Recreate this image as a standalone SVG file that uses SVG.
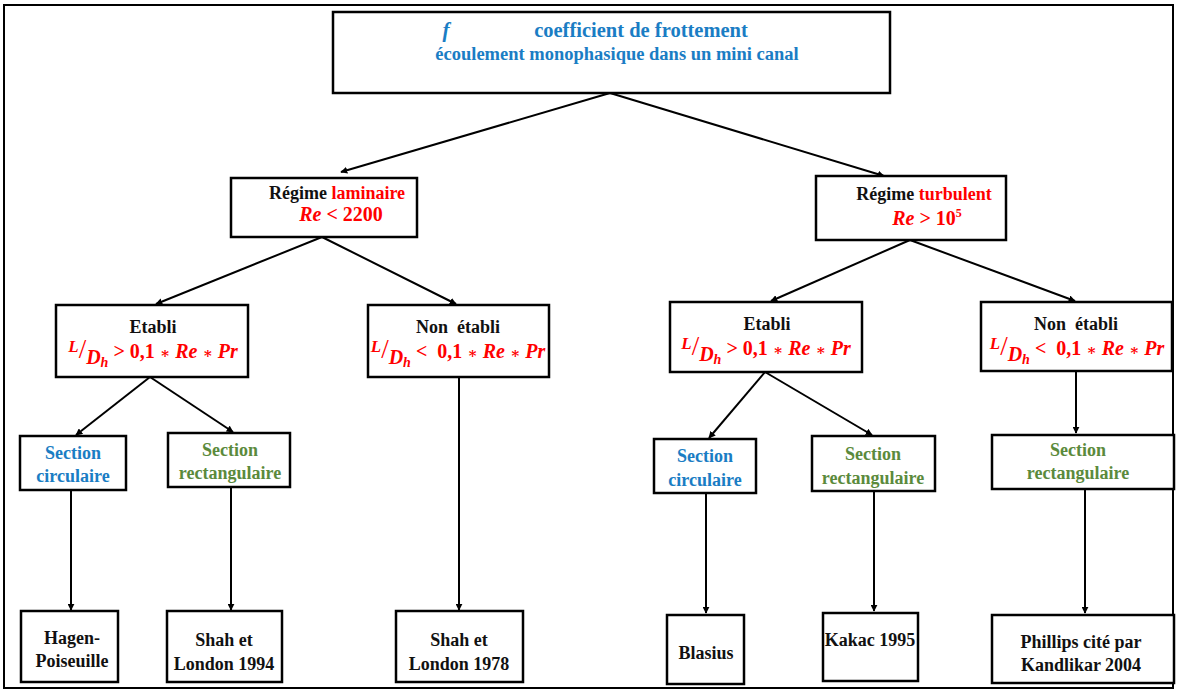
<svg xmlns="http://www.w3.org/2000/svg" width="1177" height="691" viewBox="0 0 1177 691">
<defs>
<marker id="ah" viewBox="0 0 10 10" refX="9" refY="5" markerWidth="7" markerHeight="7" orient="auto" markerUnits="userSpaceOnUse">
<path d="M0,0 L10,5 L0,10 z" fill="#000"/>
</marker>
<style>
.box{fill:#fff;stroke:#000;stroke-width:2.5}
.t{font-family:'Liberation Serif','Times New Roman','DejaVu Serif',serif;font-weight:bold;font-size:18px;fill:#111;text-anchor:middle}
.blue{fill:#1a7dc4}
.green{fill:#5b8a3c}
.red{fill:#ff0000}
.m{font-family:'Liberation Serif','Times New Roman','DejaVu Serif',serif;font-weight:bold;font-style:italic;font-size:20px;fill:#ff0000;text-anchor:middle}
.n{font-style:normal}
.s{font-style:normal;font-size:15px}
.c{stroke:#000;stroke-width:2;fill:none;marker-end:url(#ah)}
</style>
</defs>
<rect width="1177" height="691" fill="#fff"/>
<rect x="4" y="5" width="1169" height="683" fill="none" stroke="#000" stroke-width="2"/>
<g id="connectors">
<line class="c" x1="610" y1="93" x2="341" y2="172"/>
<line class="c" x1="610" y1="93" x2="884" y2="176"/>
<line class="c" x1="322" y1="237" x2="156" y2="304"/>
<line class="c" x1="322" y1="237" x2="456" y2="304"/>
<line class="c" x1="910" y1="240" x2="771" y2="301"/>
<line class="c" x1="910" y1="240" x2="1075" y2="301"/>
<line class="c" x1="150" y1="377" x2="76" y2="435"/>
<line class="c" x1="150" y1="377" x2="233" y2="432"/>
<line class="c" x1="459" y1="377" x2="459" y2="610"/>
<line class="c" x1="765" y1="372" x2="709" y2="438"/>
<line class="c" x1="765" y1="372" x2="872" y2="435"/>
<line class="c" x1="1076" y1="371" x2="1076" y2="433"/>
<line class="c" x1="71" y1="490" x2="71" y2="610"/>
<line class="c" x1="231" y1="487" x2="231" y2="610"/>
<line class="c" x1="706" y1="493" x2="706" y2="613"/>
<line class="c" x1="874" y1="491" x2="874" y2="611"/>
<line class="c" x1="1085" y1="489" x2="1085" y2="613"/>
</g>
<g id="top">
<rect class="box" x="333" y="12" width="557" height="81"/>
<text class="t blue" x="446" y="37" style="font-size:21px;font-style:italic">f</text>
<text class="t blue" x="641" y="37" style="font-size:20.5px">coefficient de frottement</text>
<text class="t blue" x="617" y="60" style="font-size:18.5px">écoulement monophasique dans un mini canal</text>
</g>
<g id="laminaire">
<rect class="box" x="231" y="178" width="186" height="59"/>
<text class="t" x="337" y="199">Régime <tspan class="red">laminaire</tspan></text>
<text class="m" x="341" y="221">Re <tspan class="n">&lt; 2200</tspan></text>
</g>
<g id="turbulent">
<rect class="box" x="816" y="176" width="190" height="64"/>
<text class="t" x="924" y="200">Régime <tspan class="red">turbulent</tspan></text>
<text class="m" x="927" y="225">Re <tspan class="n">&gt; 10<tspan font-size="12" dy="-8">5</tspan></tspan></text>
</g>
<g id="etabli-lam">
<rect class="box" x="56" y="305" width="192" height="72"/>
<text class="t" x="153" y="333">Etabli</text>
<text class="m" x="153" y="358"><tspan font-size="17" dy="-6">L</tspan><tspan class="n" font-weight="normal" font-size="27" dy="6">/</tspan><tspan dy="6">D</tspan><tspan font-size="14" dy="3">h</tspan><tspan class="n" dy="-9"> &gt; 0,1 </tspan><tspan class="s">∗</tspan> Re <tspan class="s">∗</tspan> Pr</text>
</g>
<g id="nonetabli-lam">
<rect class="box" x="368" y="305" width="181" height="72"/>
<text class="t" x="458" y="333">Non&#160; établi</text>
<text class="m" x="458" y="358"><tspan font-size="17" dy="-6">L</tspan><tspan class="n" font-weight="normal" font-size="27" dy="6">/</tspan><tspan dy="6">D</tspan><tspan font-size="14" dy="3">h</tspan><tspan class="n" dy="-9"> &lt;&#160; 0,1 </tspan><tspan class="s">∗</tspan> Re <tspan class="s">∗</tspan> Pr</text>
</g>
<g id="etabli-turb">
<rect class="box" x="670" y="302" width="192" height="70"/>
<text class="t" x="767" y="330">Etabli</text>
<text class="m" x="766" y="355"><tspan font-size="17" dy="-6">L</tspan><tspan class="n" font-weight="normal" font-size="27" dy="6">/</tspan><tspan dy="6">D</tspan><tspan font-size="14" dy="3">h</tspan><tspan class="n" dy="-9"> &gt; 0,1 </tspan><tspan class="s">∗</tspan> Re <tspan class="s">∗</tspan> Pr</text>
</g>
<g id="nonetabli-turb">
<rect class="box" x="981" y="302" width="191" height="69"/>
<text class="t" x="1076" y="330">Non&#160; établi</text>
<text class="m" x="1077" y="355"><tspan font-size="17" dy="-6">L</tspan><tspan class="n" font-weight="normal" font-size="27" dy="6">/</tspan><tspan dy="6">D</tspan><tspan font-size="14" dy="3">h</tspan><tspan class="n" dy="-9"> &lt;&#160; 0,1 </tspan><tspan class="s">∗</tspan> Re <tspan class="s">∗</tspan> Pr</text>
</g>
<g id="circ-lam">
<rect class="box" x="20" y="436" width="106" height="54"/>
<text class="t blue" x="73" y="459">Section</text>
<text class="t blue" x="73" y="482">circulaire</text>
</g>
<g id="rect-lam">
<rect class="box" x="168" y="433" width="122" height="54"/>
<text class="t green" x="230" y="456">Section</text>
<text class="t green" x="230" y="479">rectangulaire</text>
</g>
<g id="circ-turb">
<rect class="box" x="654" y="439" width="102" height="54"/>
<text class="t blue" x="705" y="462">Section</text>
<text class="t blue" x="705" y="486">circulaire</text>
</g>
<g id="rect-turb">
<rect class="box" x="812" y="436" width="123" height="55"/>
<text class="t green" x="873" y="460">Section</text>
<text class="t green" x="873" y="484">rectangulaire</text>
</g>
<g id="rect-nonetabli">
<rect class="box" x="992" y="435" width="182" height="54"/>
<text class="t green" x="1078" y="456">Section</text>
<text class="t green" x="1078" y="479">rectangulaire</text>
</g>
<g id="hagen">
<rect class="box" x="21" y="611" width="97" height="71"/>
<text class="t" x="72" y="644">Hagen-</text>
<text class="t" x="72" y="667">Poiseuille</text>
</g>
<g id="shah1994">
<rect class="box" x="167" y="611" width="115" height="71"/>
<text class="t" x="224" y="646">Shah et</text>
<text class="t" x="224" y="670">London 1994</text>
</g>
<g id="shah1978">
<rect class="box" x="396" y="611" width="127" height="71"/>
<text class="t" x="459" y="646">Shah et</text>
<text class="t" x="459" y="670">London 1978</text>
</g>
<g id="blasius">
<rect class="box" x="667" y="615" width="77" height="69"/>
<text class="t" x="706" y="659">Blasius</text>
</g>
<g id="kakac">
<rect class="box" x="823" y="613" width="95" height="68"/>
<text class="t" x="870" y="646">Kakac 1995</text>
</g>
<g id="phillips">
<rect class="box" x="992" y="615" width="182" height="68"/>
<text class="t" x="1081" y="648">Phillips cité par</text>
<text class="t" x="1081" y="671">Kandlikar 2004</text>
</g>
</svg>
